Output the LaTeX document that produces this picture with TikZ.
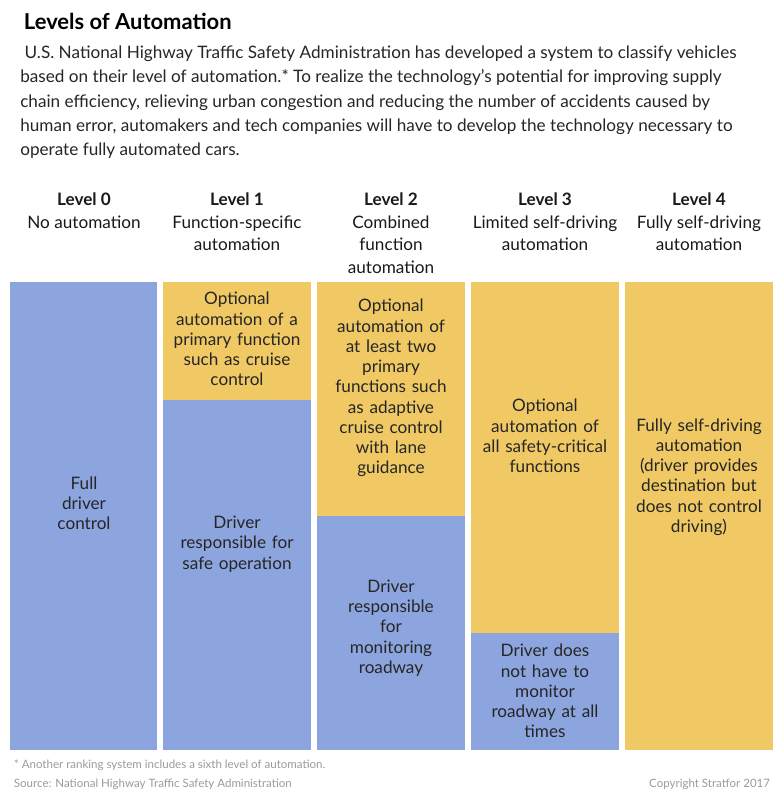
\documentclass[tikz,border=0pt]{standalone}
\usepackage{fontspec}
\setmainfont{Lato}
\definecolor{autoblue}{HTML}{8CA5DE}
\definecolor{autoyellow}{HTML}{F0C965}
\definecolor{notegray}{HTML}{9A9A9A}
\tikzset{
  box/.style={inner sep=0pt,outer sep=0pt},
  boxtext/.style={align=center,text width=146\unitpx,font=\fontsize{12.2}{14.4}\selectfont,text=black!85},
  head/.style={align=center,anchor=north,font=\fontsize{12.2}{16}\selectfont,text=black!90},
  note/.style={anchor=base west,font=\fontsize{8.2}{9}\selectfont,text=notegray}
}
\newlength{\unitpx}\setlength{\unitpx}{0.025cm}
\begin{document}
\begin{tikzpicture}[x=0.025cm,y=-0.025cm]
    % Frame
    \useasboundingbox (0,0) rectangle (784,798);
    % Title and intro
    \node[anchor=base west,font=\fontsize{15.6}{16}\selectfont\bfseries] (title) at (19,29) {Levels of Automation};
    \node[anchor=north west,align=left,font=\fontsize{12.2}{17.1}\selectfont,text=black!85,inner sep=0pt] (intro) at (20,46)
        {\ U.S. National Highway Traffic Safety Administration has developed a system to classify vehicles\\
         based on their level of automation.* To realize the technology's potential for improving supply\\
         chain efficiency, relieving urban congestion and reducing the number of accidents caused by\\
         human error, automakers and tech companies will have to develop the technology necessary to\\
         operate fully automated cars.};
    % Column headings
    \node[head] (h0) at (84,188) {\textbf{Level 0}\\No automation};
    \node[head] (h1) at (237,188) {\textbf{Level 1}\\Function-specific\\automation};
    \node[head] (h2) at (391,188) {\textbf{Level 2}\\Combined\\function\\automation};
    \node[head] (h3) at (545,188) {\textbf{Level 3}\\Limited self-driving\\automation};
    \node[head] (h4) at (699,188) {\textbf{Level 4}\\Fully self-driving\\automation};
    % Blocks
    \fill[autoblue] (10,282) rectangle (157,750);
    \fill[autoyellow] (163,282) rectangle (311,400);
    \fill[autoblue] (163,400) rectangle (311,750);
    \fill[autoyellow] (317,282) rectangle (465,516);
    \fill[autoblue] (317,516) rectangle (465,750);
    \fill[autoyellow] (471,282) rectangle (619,633);
    \fill[autoblue] (471,633) rectangle (619,750);
    \fill[autoyellow] (625,282) rectangle (773,750);
    % Block texts
    \node[boxtext] (b0) at (84,503) {Full\\driver\\control};
    \node[boxtext] (b1a) at (237,339) {Optional\\automation of a\\primary function\\such as cruise\\control};
    \node[boxtext] (b1b) at (237,544) {Driver\\responsible for\\safe operation};
    \node[boxtext] (b2a) at (391,388) {Optional\\automation of\\at least two\\primary\\functions such\\as adaptive\\cruise control\\with lane\\guidance};
    \node[boxtext] (b2b) at (391,628) {Driver\\responsible\\for\\monitoring\\roadway};
    \node[boxtext] (b3a) at (545,436) {Optional\\automation of\\all safety-critical\\functions};
    \node[boxtext] (b3b) at (545,691) {Driver does\\not have to\\monitor\\roadway at all\\times};
    \node[boxtext] (b4) at (699,477) {Fully self-driving\\automation\\(driver provides\\destination but\\does not control\\driving)};
    % Notes
    \node[note] (fn) at (9,768) {* Another ranking system includes a sixth level of automation.};
    \node[note] (src) at (9,787) {Source: National Highway Traffic Safety Administration};
    \node[note,anchor=base east] (copy) at (775,787) {Copyright Stratfor 2017};
\end{tikzpicture}
\end{document}
